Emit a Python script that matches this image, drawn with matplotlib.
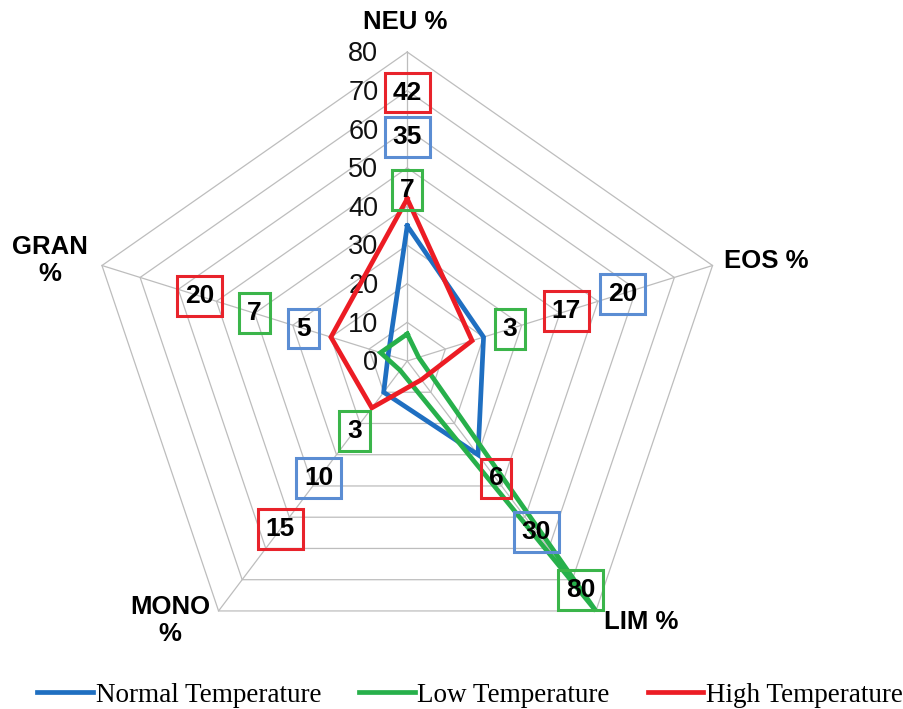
import numpy as np
import matplotlib.pyplot as plt

categories = ['NEU %', 'EOS %', 'LIM %', 'MONO\n%', 'GRAN\n%']
normal_temp = [35, 20, 30, 10, 5]
low_temp = [7, 3, 80, 3, 7]
high_temp = [42, 17, 6, 15, 20]
ticks = [0, 10, 20, 30, 40, 50, 60, 70, 80]

# value boxes sit along each spoke at these distances
normal_box_r = [58, 56.4, 54.7, 37.5, 27.2]
low_box_r = [44.3, 26.9, 73.4, 22.4, 40]
high_box_r = [69.5, 41.7, 37.6, 53.8, 54.5]

# category label offsets from the outer vertex (points)
cat_offsets = [(-1.5, 21.5), (39, 3), (32.5, -8), (-35, -7), (-37.5, 3.5)]

ang = np.deg2rad(90 - 72 * np.arange(5))


def to_xy(r):
    r = np.asarray(r, dtype=float)
    return r * np.cos(ang), r * np.sin(ang)


def closed(v):
    return np.append(v, v[0])


fig = plt.figure(figsize=(9.04, 7.09), dpi=100)
ax = fig.add_axes([0.00664, 0.0006, 0.8877, 0.9805])
ax.set_xlim(-100, 100)
ax.set_ylim(-90, 90)
ax.axis('off')

grid_col = '#bdbdbd'
for t in ticks[1:]:
    gx, gy = to_xy([t] * 5)
    ax.plot(closed(gx), closed(gy), color=grid_col, lw=0.9, zorder=1)
ox, oy = to_xy([ticks[-1]] * 5)
for x1, y1 in zip(ox, oy):
    ax.plot([0, x1], [0, y1], color=grid_col, lw=0.9, zorder=1)

for t in ticks:
    ax.text(-7.2, t - 0.6, str(t), ha='right', va='center', fontsize=19.5,
            family='Liberation Sans', color='#111111', zorder=2)

for name, (dx, dy), x1, y1 in zip(categories, cat_offsets, ox, oy):
    ax.annotate(name, (x1, y1), xytext=(dx, dy), textcoords='offset points',
                ha='center', va='center', fontsize=18.5, fontweight='bold',
                family='Liberation Sans', linespacing=1.15, annotation_clip=False)

series = [
    ('Normal Temperature', normal_temp, normal_box_r, '#1f6fc1', '#5b8dd3'),
    ('Low Temperature', low_temp, low_box_r, '#27b04b', '#3bb54a'),
    ('High Temperature', high_temp, high_box_r, '#ec1c24', '#e8232b'),
]

for name, vals, box_r, col, box_col in series:
    px, py = to_xy(vals)
    ax.plot(closed(px), closed(py), color=col, lw=3.4, label=name,
            solid_joinstyle='miter', zorder=3)
    bx, by = to_xy(box_r)
    for v, x1, y1 in zip(vals, bx, by):
        ax.text(x1, y1, str(v), ha='center', va='center', fontsize=19,
                fontweight='bold', family='Liberation Sans', zorder=5,
                bbox=dict(boxstyle='square,pad=0.3', fc='none', ec=box_col, lw=2.2))

fig.legend(loc='center', bbox_to_anchor=(0.52, 0.0197), ncol=3, frameon=False,
           prop={'family': 'Liberation Serif', 'size': 19.5},
           handlelength=2.05, handletextpad=0.1, columnspacing=1.4)

fig.savefig('out.png', dpi=100)
